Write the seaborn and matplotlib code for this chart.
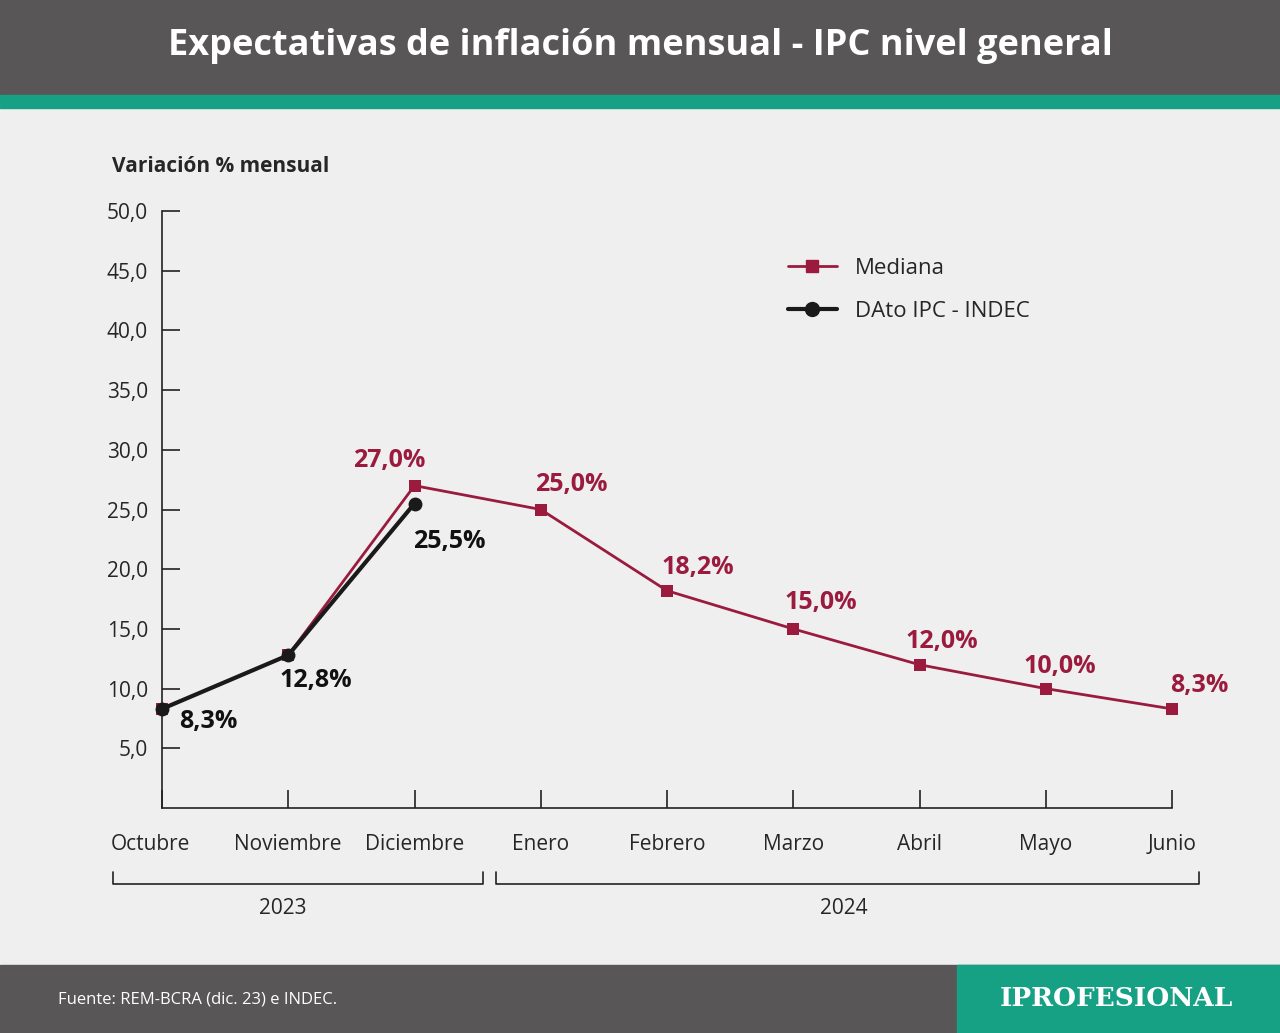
import matplotlib
matplotlib.use("Agg")
import matplotlib.pyplot as plt
import seaborn as sns
import pandas as pd
from matplotlib.patches import Rectangle
from matplotlib.lines import Line2D

meses = ["Octubre", "Noviembre", "Diciembre", "Enero", "Febrero", "Marzo", "Abril", "Mayo", "Junio"]
mediana = [8.3, 12.8, 27.0, 25.0, 18.2, 15.0, 12.0, 10.0, 8.3]
ipc_meses = ["Octubre", "Noviembre", "Diciembre"]
ipc = [8.3, 12.8, 25.5]
y_ticks = [5, 10, 15, 20, 25, 30, 35, 40, 45, 50]

RED = "#9b1b3e"
BG = "#efefef"
DARK = "#585656"
TEAL = "#16a084"

sns.set_theme(style="white")
plt.rcParams["font.family"] = ["Open Sans", "DejaVu Sans"]

fig = plt.figure(figsize=(12.8, 10.33), dpi=100, facecolor=BG)
W, H = 1280, 1033

def px(x, y):
    return x / W, 1 - y / H

# header and footer
fig.patches.append(Rectangle(px(0, 95), 1, 95 / H, transform=fig.transFigure, color=DARK, zorder=0))
fig.patches.append(Rectangle(px(0, 108), 1, 13 / H, transform=fig.transFigure, color=TEAL, zorder=0))
fig.patches.append(Rectangle(px(0, 1033), 1, 68 / H, transform=fig.transFigure, color=DARK, zorder=0))
fig.patches.append(Rectangle(px(957, 1033), 323 / W, 68 / H, transform=fig.transFigure, color=TEAL, zorder=0))
fig.text(*px(640, 46), "Expectativas de inflación mensual - IPC nivel general", color="white",
         fontsize=26, fontweight="bold", ha="center", va="center")
fig.text(*px(58, 1000), "Fuente: REM-BCRA (dic. 23) e INDEC.", color="white", fontsize=12, va="center")
fig.text(*px(1116, 998), "IPROFESIONAL", color="white", fontsize=19, fontweight="bold",
         family="DejaVu Serif", ha="center", va="center")

ax = fig.add_axes([162 / W, 1 - 808 / H, (1172 - 162) / W, (808 - 211) / H])
ax.set_facecolor(BG)

df_med = pd.DataFrame({"x": range(len(meses)), "y": mediana})
df_ipc = pd.DataFrame({"x": range(len(ipc_meses)), "y": ipc})
sns.lineplot(data=df_med, x="x", y="y", ax=ax, color=RED, lw=2, marker="s", markersize=8,
             markeredgewidth=0, clip_on=False, zorder=3)
sns.lineplot(data=df_ipc, x="x", y="y", ax=ax, color="#1a1a1a", lw=3, marker="o", markersize=10,
             markeredgewidth=0, clip_on=False, zorder=4)

ax.set_xlim(0, 8)
ax.set_ylim(0, 50)
ax.set_xticks(range(len(meses)))
ax.set_xticklabels([])
ax.set_yticks(y_ticks)
ax.set_yticklabels([f"{v},0" for v in y_ticks], fontsize=15)
ax.tick_params(axis="both", direction="in", length=13, width=1.2, color="#222",
               bottom=True, left=True)
ax.tick_params(axis="y", pad=10)
for s in ["top", "right"]:
    ax.spines[s].set_visible(False)
for s in ["left", "bottom"]:
    ax.spines[s].set_color("#222")
    ax.spines[s].set_linewidth(1.2)
ax.set_xlabel("")
ax.set_ylabel("")

for i, m in enumerate(meses):
    ax.annotate(m, (i, 0), xytext=(-8 if i == 0 else 0, -26), textcoords="offset points",
                ha="center", va="center", fontsize=15, annotation_clip=False)

# value labels
offs = [None, None, (-18, 18), (22, 18), (22, 17), (20, 19), (16, 17), (10, 16), (20, 17)]
for i, v in enumerate(mediana):
    if offs[i] is None:
        continue
    ax.annotate(f"{v:.1f}%".replace(".", ","), (i, v), xytext=offs[i], textcoords="offset points",
                ha="center", va="center", color=RED, fontsize=18, fontweight="bold",
                annotation_clip=False)
ipc_offs = [(33, -9), (20, -18), (25, -27)]
for i, v in enumerate(ipc):
    ax.annotate(f"{v:.1f}%".replace(".", ","), (i, v), xytext=ipc_offs[i], textcoords="offset points",
                ha="center", va="center", color="#111", fontsize=18, fontweight="bold",
                annotation_clip=False)

fig.text(*px(112, 167), "Variación % mensual", fontsize=15, fontweight="bold", va="center")

# legend
leg = [Line2D([], [], color=RED, lw=2, marker="s", markersize=8, label="Mediana"),
       Line2D([], [], color="#1a1a1a", lw=3, marker="o", markersize=10, label="DAto IPC - INDEC")]
ax.legend(handles=leg, loc="upper left", bbox_to_anchor=(0.6, 0.955), frameon=False,
          fontsize=16, handlelength=2.2, labelspacing=1.0)

# year brackets
for x0, x1, yl, xt in [(113, 483, "2023", 283), (496, 1199, "2024", 844)]:
    fig.add_artist(Line2D([x0 / W, x0 / W, x1 / W, x1 / W],
                          [1 - 872 / H, 1 - 884 / H, 1 - 884 / H, 1 - 872 / H],
                          transform=fig.transFigure, color="#222", lw=1.2))
    fig.text(*px(xt, 908), yl, fontsize=15, ha="center", va="center")

fig.savefig("out.png", dpi=100, facecolor=BG)
